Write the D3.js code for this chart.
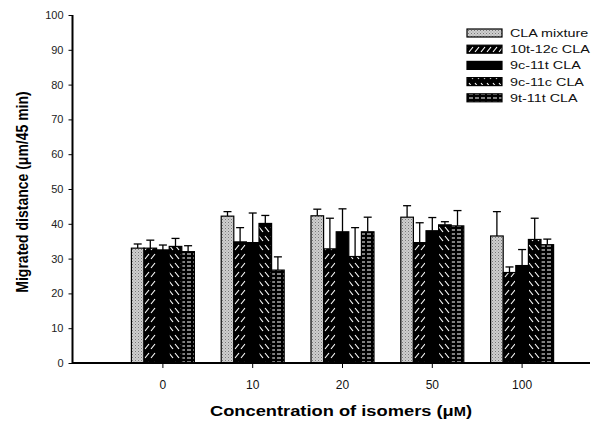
<!DOCTYPE html>
<html><head><meta charset="utf-8">
<script src="https://cdn.jsdelivr.net/npm/d3@7"></script>
<style>body{margin:0;background:#fff}svg{display:block}text{font-family:"Liberation Sans",Arial,sans-serif}</style>
</head><body><svg id="c" width="610" height="423"></svg>
<script>
const categories = ["0","10","20","50","100"];
const series = ["CLA mixture","10t-12c CLA","9c-11t CLA","9c-11c CLA","9t-11t CLA"];
const means = {
  "CLA mixture": [33.0, 42.2, 42.3, 41.9, 36.5],
  "10t-12c CLA": [33.0, 34.8, 32.8, 34.6, 26.0],
  "9c-11t CLA":  [32.5, 34.6, 37.7, 38.0, 28.0],
  "9c-11c CLA":  [33.5, 40.1, 30.6, 39.7, 35.5],
  "9t-11t CLA":  [32.0, 26.7, 37.7, 39.4, 34.0]
};
const errTops = {
  "CLA mixture": [34.2, 43.5, 44.2, 45.2, 43.5],
  "10t-12c CLA": [35.3, 38.9, 41.6, 40.3, 27.6],
  "9c-11t CLA":  [33.9, 43.1, 44.3, 41.8, 32.6],
  "9c-11c CLA":  [35.8, 42.4, 38.9, 40.6, 41.6],
  "9t-11t CLA":  [33.7, 30.5, 41.9, 43.8, 35.6]
};
const yTicks = [0,10,20,30,40,50,60,70,80,90,100];

const svg = d3.select("#c");
const defs = svg.append("defs");
const pMix = defs.append("pattern").attr("id","pMix").attr("patternUnits","userSpaceOnUse").attr("width",3).attr("height",3);
pMix.append("rect").attr("width",3).attr("height",3).attr("fill","#cfcfcf");
pMix.append("rect").attr("x",0).attr("y",0).attr("width",1).attr("height",1).attr("fill","#777");
pMix.append("rect").attr("x",1.5).attr("y",1.5).attr("width",1).attr("height",1).attr("fill","#999");
const pFwd = defs.append("pattern").attr("id","pFwd").attr("patternUnits","userSpaceOnUse").attr("width",6).attr("height",9);
pFwd.append("rect").attr("width",6).attr("height",9).attr("fill","#000");
pFwd.append("line").attr("x1",1).attr("y1",7).attr("x2",5).attr("y2",2).attr("stroke","#fff").attr("stroke-width",1.2);
const pBack = defs.append("pattern").attr("id","pBack").attr("patternUnits","userSpaceOnUse").attr("width",6).attr("height",9);
pBack.append("rect").attr("width",6).attr("height",9).attr("fill","#000");
pBack.append("line").attr("x1",1).attr("y1",2).attr("x2",5).attr("y2",7).attr("stroke","#fff").attr("stroke-width",1.2);
const pHor = defs.append("pattern").attr("id","pHor").attr("patternUnits","userSpaceOnUse").attr("width",6).attr("height",4);
pHor.append("rect").attr("width",6).attr("height",4).attr("fill","#000");
pHor.append("line").attr("x1",1).attr("y1",2).attr("x2",5).attr("y2",2).attr("stroke","#fff").attr("stroke-width",1);
const fills = {"CLA mixture":"url(#pMix)","10t-12c CLA":"url(#pFwd)","9c-11t CLA":"#000","9c-11c CLA":"url(#pBack)","9t-11t CLA":"url(#pHor)"};

const y = d3.scaleLinear().domain([0,100]).range([363,15]);
const x0 = d3.scaleBand().domain(categories).range([118,567]);
const x1 = d3.scaleBand().domain(series).range([0,63]);

const g = svg.append("g");
categories.forEach((c,i)=>{
  const gx = x0(c) + x0.bandwidth()/2 - 31.5;
  series.forEach(s=>{
    const bx = gx + x1(s), cx = bx + x1.bandwidth()/2;
    g.append("line").attr("x1",cx).attr("x2",cx)
      .attr("y1",y(means[s][i])).attr("y2",y(errTops[s][i])).attr("stroke","#000").attr("stroke-width",1.3);
    g.append("line").attr("x1",cx-4).attr("x2",cx+4)
      .attr("y1",y(errTops[s][i])).attr("y2",y(errTops[s][i])).attr("stroke","#000").attr("stroke-width",1.3);
    g.append("rect").attr("x",bx).attr("y",y(means[s][i])).attr("width",x1.bandwidth())
      .attr("height",y(0)-y(means[s][i])).attr("fill",fills[s]).attr("stroke","#000").attr("stroke-width",1.2);
  });
});

const yAxis = svg.append("g").attr("transform","translate(72.5,0)")
  .call(d3.axisLeft(y).tickValues(yTicks).tickSize(4).tickPadding(5).tickFormat(d3.format("d")));
yAxis.select(".domain").attr("stroke-width",2).attr("d","M0,15V363");
yAxis.selectAll("text").attr("font-size",11).attr("fill","#222");
const xAxis = svg.append("g").attr("transform","translate(0,363)")
  .call(d3.axisBottom(x0).tickSize(5).tickPadding(12));
xAxis.select(".domain").attr("stroke-width",2).attr("d","M72,0H590");
xAxis.selectAll("text").attr("font-size",12).attr("fill","#111");

svg.append("text").attr("transform","translate(28,192) rotate(-90) scale(1,1.15)").attr("text-anchor","middle")
  .attr("font-size",14).attr("font-weight","bold").text("Migrated distance (μm/45 min)");
const xt = svg.append("g").attr("transform","translate(341,416) scale(1.22,1)")
  .append("text").attr("text-anchor","middle").attr("font-size",15).attr("font-weight","bold");
xt.append("tspan").text("Concentration of isomers (μ");
xt.append("tspan").attr("font-size",12).text("M");
xt.append("tspan").text(")");

const leg = svg.append("g");
series.forEach((s,i)=>{
  const ly = 33 + i*16.2;
  leg.append("rect").attr("x",467).attr("y",ly-4).attr("width",35).attr("height",8)
    .attr("fill",fills[s]).attr("stroke","#000").attr("stroke-width",1.2);
  leg.append("g").attr("transform",`translate(510,${ly+4}) scale(1.25,1)`)
    .append("text").attr("font-size",11.5).attr("fill","#111").text(s);
});
</script></body></html>
